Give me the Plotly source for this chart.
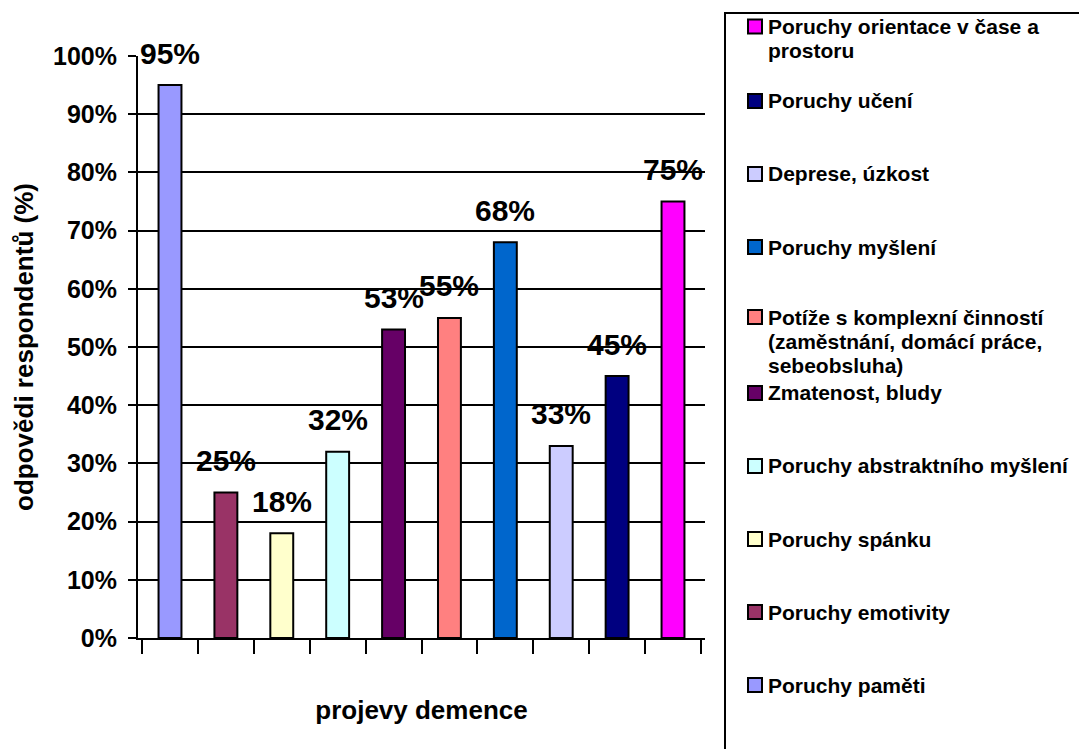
import plotly.graph_objects as go

# Survey: manifestations of dementia named by respondents (share of answers, %)
categories = [
    "Poruchy paměti",
    "Poruchy emotivity",
    "Poruchy spánku",
    "Poruchy abstraktního myšlení",
    "Zmatenost, bludy",
    "Potíže s komplexní činností (zaměstnání, domácí práce, sebeobsluha)",
    "Poruchy myšlení",
    "Deprese, úzkost",
    "Poruchy učení",
    "Poruchy orientace v čase a prostoru",
]
# legend wording, broken into the lines it is shown on
legend_lines = [
    ["Poruchy paměti"],
    ["Poruchy emotivity"],
    ["Poruchy spánku"],
    ["Poruchy abstraktního myšlení"],
    ["Zmatenost, bludy"],
    ["Potíže s komplexní činností", "(zaměstnání, domácí práce,", "sebeobsluha)"],
    ["Poruchy myšlení"],
    ["Deprese, úzkost"],
    ["Poruchy učení"],
    ["Poruchy orientace v čase a", "prostoru"],
]
values = [95, 25, 18, 32, 53, 55, 68, 33, 45, 75]
colors = ["#9999FF", "#993366", "#FFFFCC", "#CCFFFF", "#660066",
          "#FF8080", "#0066CC", "#CCCCFF", "#000080", "#FF00FF"]

FONT = "Liberation Sans, Arial, sans-serif"
W, H = 1079, 749
L, R, T, B = 138, 705, 56, 638  # plot area edges in pixels


def px_x(px):
    return (px - L) / (R - L)


def px_y(py):
    return (B - py) / (B - T)


fig = go.Figure()
for name, val, col in zip(categories, values, colors):
    fig.add_trace(go.Bar(
        x=[name], y=[val], name=name, width=0.41,
        marker=dict(color=col, line=dict(color="black", width=2)),
        showlegend=False,
    ))

# value labels above the bars
for name, val in zip(categories, values):
    fig.add_annotation(
        x=name, y=val, text=f"{val}%", showarrow=False,
        yanchor="middle", yshift=32,
        font=dict(family=FONT, size=30, color="black", weight="bold"),
    )

# legend box on the right, entries listed top-down in reverse order
fig.add_shape(type="rect", xref="paper", yref="paper",
              x0=px_x(725), x1=px_x(1100), y0=px_y(13), y1=px_y(800),
              line=dict(color="black", width=2), fillcolor="rgba(0,0,0,0)")
first_y, pitch, line_gap = 28, 73.0, 24
for i, idx in enumerate(reversed(range(len(categories)))):
    lines = legend_lines[idx]
    cy = first_y + i * pitch - (len(lines) - 1) * 1.5
    fig.add_shape(type="rect", xref="paper", yref="paper",
                  x0=px_x(748), x1=px_x(762), y0=px_y(cy - 7), y1=px_y(cy + 7),
                  line=dict(color="black", width=2), fillcolor=colors[idx])
    for k, line in enumerate(lines):
        fig.add_annotation(
            xref="paper", yref="paper", x=px_x(767), y=px_y(cy + k * line_gap),
            xanchor="left", yanchor="middle", align="left", showarrow=False,
            text=line, borderpad=0,
            font=dict(family=FONT, size=21, color="black", weight="bold"),
        )

fig.update_layout(
    width=W, height=H,
    margin=dict(l=L, r=W - R, t=T, b=H - B, autoexpand=False),
    paper_bgcolor="white", plot_bgcolor="white",
    barmode="overlay", showlegend=False,
    font=dict(family=FONT, color="black"),
)
fig.update_xaxes(
    type="category", categoryorder="array", categoryarray=categories,
    tickson="boundaries", ticks="outside", ticklen=14, tickwidth=2, tickcolor="black",
    showticklabels=False, showline=True, linecolor="black", linewidth=2,
    showgrid=False, zeroline=False,
    title=dict(text="projevy demence", standoff=62,
               font=dict(family=FONT, size=26, color="black", weight="bold")),
)
fig.update_yaxes(
    range=[0, 100], dtick=10, ticksuffix="%",
    ticks="outside", ticklen=8, tickwidth=2, tickcolor="black",
    ticklabelstandoff=6,
    tickfont=dict(family=FONT, size=25, color="black", weight="bold"),
    showline=True, linecolor="black", linewidth=2,
    showgrid=True, gridcolor="black", gridwidth=2, zeroline=False,
    title=dict(text="odpovědi respondentů (%)", standoff=12,
               font=dict(family=FONT, size=26, color="black", weight="bold")),
)

fig.write_html("out.html")
